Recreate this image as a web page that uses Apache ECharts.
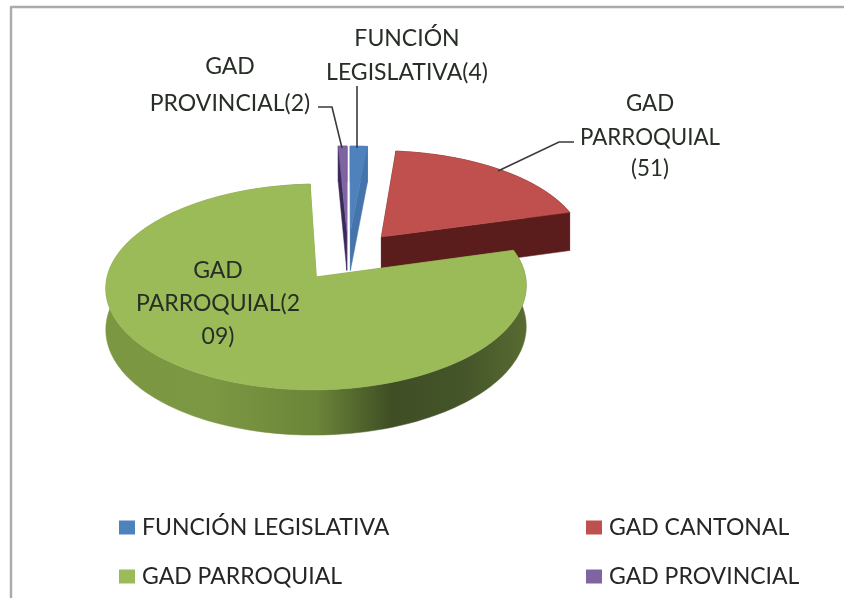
<!DOCTYPE html>
<html>
<head>
<meta charset="utf-8">
<style>html,body{margin:0;padding:0;background:#fff}#c{width:844px;height:598px;filter:blur(0.5px)}</style>
<script src="https://cdn.jsdelivr.net/npm/echarts@6/dist/echarts.min.js"></script>
</head>
<body>
<div id="c"></div>
<script>
// ---- data ----
const categories = ['FUNCIÓN LEGISLATIVA', 'GAD CANTONAL', 'GAD PARROQUIAL', 'GAD PROVINCIAL'];
const values = [4, 51, 209, 2];
const labelTexts = ['FUNCIÓN\nLEGISLATIVA(4)', 'GAD\nPARROQUIAL\n(51)', 'GAD\nPARROQUIAL(2\n09)', 'GAD\nPROVINCIAL(2)'];

// ---- styles and layout ----
const topColors = ['#4f81bd', '#c0504d', '#9bbb59', '#8064a2'];
const wallColors = ['#4574ab', '#5a1d1c', '#7b9741', '#3a2a5c'];
const paintOrder = [3, 4, 5, 3];
const font = 'Lato';
const labelBoxes = [
  {x: 407, size: 23, lines: [39, 73]},
  {x: 650, size: 22.3, lines: [104, 138, 169]},
  {x: 218, size: 23, lines: [271, 304, 337]},
  {x: 230, size: 23, lines: [67, 104]}
];
const leaders = [
  [[357, 86], [357, 148]],
  [[574, 142], [559, 142], [498, 171]],
  [[318, 107], [332, 107], [342, 148]]
];
const scene = {cx: 348, cy: 256, radius: 205, explode: 53, tilt: 0.4775, focal: 2146, depth: 40};

const total = values.reduce((a, b) => a + b, 0);
const starts = [];
values.reduce((acc, v, i) => { starts[i] = acc; return acc + v; }, 0);

function project(X, Z, drop) {
  const s = scene.focal / (scene.focal + Z);
  return [scene.cx + X * s, scene.cy - Z * scene.tilt * s + (drop || 0) * s];
}

function sliceShapes(i) {
  const a0 = starts[i] / total * 2 * Math.PI;
  const a1 = (starts[i] + values[i]) / total * 2 * Math.PI;
  const mid = (a0 + a1) / 2;
  const ox = Math.sin(mid) * scene.explode, oz = Math.cos(mid) * scene.explode;
  const n = Math.max(2, Math.ceil((a1 - a0) / 0.03));
  const rim = [];
  for (let k = 0; k <= n; k++) {
    const a = a0 + (a1 - a0) * k / n;
    rim.push([ox + Math.sin(a) * scene.radius, oz + Math.cos(a) * scene.radius]);
  }
  const top = [project(ox, oz)].concat(rim.map(p => project(p[0], p[1])));
  const rimWall = rim.map(p => project(p[0], p[1])).concat(rim.slice().reverse().map(p => project(p[0], p[1], scene.depth)));
  const firstFace = [project(ox, oz), project(rim[0][0], rim[0][1]), project(rim[0][0], rim[0][1], scene.depth), project(ox, oz, scene.depth)];
  const last = rim[rim.length - 1];
  const lastFace = [project(ox, oz), project(last[0], last[1]), project(last[0], last[1], scene.depth), project(ox, oz, scene.depth)];
  return {top, rimWall, firstFace, lastFace};
}

function renderSlice(i) {
  return function () {
    const s = sliceShapes(i);
    let rimFill = wallColors[i];
    if (i === 2) {
      rimFill = new echarts.graphic.LinearGradient(0, 0, 1, 0, [
        {offset: 0, color: '#7b9741'},
        {offset: 0.25, color: '#7d9843'},
        {offset: 0.5, color: '#6b8539'},
        {offset: 0.68, color: '#3f4e24'},
        {offset: 0.85, color: '#45552a'},
        {offset: 1, color: '#586b31'}
      ]);
    }
    const poly = (points, fill) => ({type: 'polygon', shape: {points}, style: {fill, stroke: fill, lineWidth: 0.5}});
    return {
      type: 'group',
      children: [
        poly(s.firstFace, wallColors[i]),
        poly(s.lastFace, wallColors[i]),
        poly(s.rimWall, rimFill),
        poly(s.top, topColors[i])
      ]
    };
  };
}

const series = categories.map((name, i) => ({
  type: 'custom',
  name,
  coordinateSystem: 'none',
  z: paintOrder[i],
  silent: true,
  animation: false,
  itemStyle: {color: topColors[i]},
  data: [values[i]],
  renderItem: renderSlice(i)
}));

const labelGraphics = [];
labelTexts.forEach((t, i) => {
  t.split('\n').forEach((line, j) => {
    labelGraphics.push({
      type: 'text', z: 50, silent: true,
      x: labelBoxes[i].x, y: labelBoxes[i].lines[j],
      style: {text: line, font: labelBoxes[i].size + 'px ' + font, fill: '#262e26', textAlign: 'center', textVerticalAlign: 'middle'}
    });
  });
});
const leaderGraphics = leaders.map(points => ({
  type: 'polyline', z: 50, silent: true,
  shape: {points},
  style: {stroke: '#3a3a3a', lineWidth: 1.6, fill: 'none'}
}));
const borderGraphic = {
  type: 'polyline', z: 0, silent: true,
  shape: {points: [[11, 598], [11, 7], [844, 7]]},
  style: {stroke: '#ababab', lineWidth: 2.4, fill: 'none', lineJoin: 'round'}
};

const legendBase = {
  orient: 'vertical', selectedMode: false, icon: 'rect', padding: 0,
  itemWidth: 16, itemHeight: 14, itemGap: 26, top: 516,
  textStyle: {fontFamily: font, fontSize: 23, lineHeight: 20, color: '#262626', padding: [0, 0, 0, 2]}
};

const chart = echarts.init(document.getElementById('c'), null, {renderer: 'canvas'});
chart.setOption({
  animation: false,
  backgroundColor: '#ffffff',
  legend: [
    Object.assign({}, legendBase, {left: 119, data: [categories[0], categories[2]]}),
    Object.assign({}, legendBase, {left: 586, data: [categories[1], categories[3]]})
  ],
  graphic: {elements: [borderGraphic].concat(leaderGraphics, labelGraphics)},
  series
});
</script>
</body>
</html>
